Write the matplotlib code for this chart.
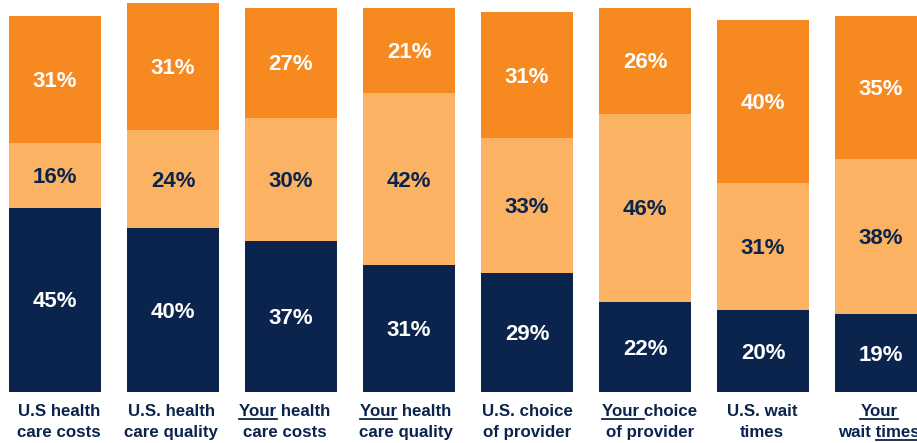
import matplotlib

matplotlib.use("Agg")
import matplotlib.pyplot as plt
from matplotlib.lines import Line2D
from matplotlib.transforms import blended_transform_factory, offset_copy

plt.rcParams["font.family"] = ["Liberation Sans", "DejaVu Sans"]

# data
line1 = ["U.S health", "U.S. health", "Your health", "Your health",
         "U.S. choice", "Your choice", "U.S. wait", "Your"]
line2 = ["care costs", "care quality", "care costs", "care quality",
         "of provider", "of provider", "times", "wait times"]
bottom_pct = [45, 40, 37, 31, 29, 22, 20, 19]
middle_pct = [16, 24, 30, 42, 33, 46, 31, 38]
top_pct = [31, 31, 27, 21, 31, 26, 40, 35]

# which words are underlined: (line index, prefix before, underlined word)
underlines = {2: [(1, "", "Your")], 3: [(1, "", "Your")],
              5: [(1, "", "Your ")], 7: [(1, "", "Your"), (2, "wait ", "times")]}
label_nudge_px = [4, -2, -6, -3.5, 0, 5, -1, -2]

NAVY = "#0B244D"
LIGHT = "#FBB262"
ORANGE = "#F6891F"

W, H = 917, 443
fig = plt.figure(figsize=(W / 100, H / 100), dpi=100)
ax = fig.add_axes([0, (H - 392) / H, 1, 392 / H])
step = 118.0
ax.set_xlim(-55 / step, (W - 55) / step)
ax.set_ylim(0, 392 / 4.09)
ax.axis("off")

x = list(range(len(bottom_pct)))
mid_base = bottom_pct
top_base = [b + m for b, m in zip(bottom_pct, middle_pct)]
ax.bar(x, bottom_pct, width=92 / step, color=NAVY)
ax.bar(x, middle_pct, width=92 / step, bottom=mid_base, color=LIGHT)
ax.bar(x, top_pct, width=92 / step, bottom=top_base, color=ORANGE)

pct_trans = offset_copy(ax.transData, fig=fig, x=0, y=-2, units="dots")
pct_kw = dict(ha="center", va="center", fontsize=16, fontweight="bold",
              transform=pct_trans)
for i in x:
    ax.text(i, bottom_pct[i] / 2, f"{bottom_pct[i]}%", color="white", **pct_kw)
    ax.text(i, mid_base[i] + middle_pct[i] / 2, f"{middle_pct[i]}%", color=NAVY, **pct_kw)
    ax.text(i, top_base[i] + top_pct[i] / 2, f"{top_pct[i]}%", color="white", **pct_kw)

trans = blended_transform_factory(ax.transData, fig.transFigure)
lab_kw = dict(ha="center", va="baseline", fontsize=12.2, fontweight="bold", color=NAVY)
baselines = {1: 1 - 416 / H, 2: 1 - 437 / H}
texts = {}
for i in x:
    xi = i + label_nudge_px[i] / step
    texts[(i, 1)] = ax.text(xi, baselines[1], line1[i], transform=trans, **lab_kw)
    texts[(i, 2)] = ax.text(xi, baselines[2], line2[i], transform=trans, **lab_kw)

fig.canvas.draw()
r = fig.canvas.get_renderer()


def text_width(s):
    if not s:
        return 0.0
    probe = fig.text(0, 0, s.strip(), fontsize=12.2, fontweight="bold")
    w = probe.get_window_extent(r).width
    probe.remove()
    # trailing/leading spaces are not counted in the glyph box
    space = 0.278 * 12.2 * 100 / 72
    return w + space * (len(s) - len(s.strip()))


to_fig = fig.transFigure.inverted()
for i, items in underlines.items():
    for line, before, word in items:
        bb = texts[(i, line)].get_window_extent(r)
        x0 = bb.x0 + text_width(before)
        x1 = x0 + text_width(word)
        y = (1 - baselines[line]) * H + 3
        (fx0, fy), (fx1, _) = to_fig.transform([(x0, H - y), (x1, H - y)])
        fig.add_artist(Line2D([fx0, fx1], [fy, fy], transform=fig.transFigure,
                              color=NAVY, linewidth=1.3))

fig.savefig("out.png", dpi=100)
plt.close(fig)
